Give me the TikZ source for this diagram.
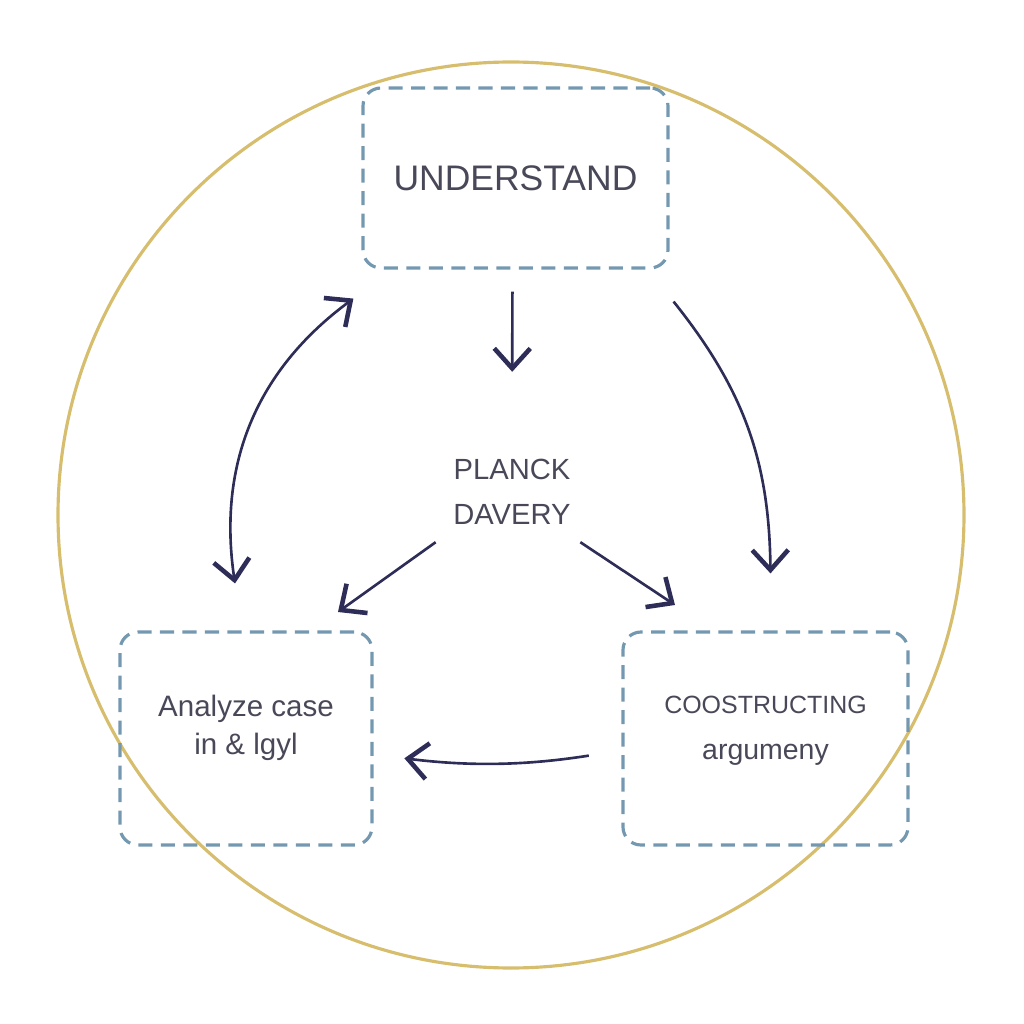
\documentclass[tikz,border=0pt]{standalone}
\usepackage{fontspec}
\setmainfont{Liberation Sans}
\usepackage{tikz}
\usetikzlibrary{arrows.meta, positioning, calc}
\definecolor{ringgold}{RGB}{214,190,110}
\definecolor{dashblue}{RGB}{115,152,175}
\definecolor{inknavy}{RGB}{45,45,88}
\definecolor{textgray}{RGB}{72,72,88}
\begin{document}
\begin{tikzpicture}[
        stagebox/.style={draw=dashblue, line width=0.9pt, dash pattern=on 4pt off 2.4pt,
                         rounded corners=0.18cm, align=center, text=textgray},
        flow/.style={inknavy, line width=0.75pt,
                     -{Straight Barb[length=2mm,width=3.6mm,line width=1.3pt]}},
        flowboth/.style={flow, {Straight Barb[length=2mm,width=3.6mm,line width=1.3pt]}-{Straight Barb[length=2mm,width=3.6mm,line width=1.3pt]}}
    ]

        \useasboundingbox (0,0) rectangle (10.24,10.24);

        % Vòng tròn nền
        \draw[ringgold, line width=0.9pt] (5.11,5.09) circle (4.53);

        % Các ô
        \node[stagebox, minimum width=3.05cm, minimum height=1.8cm, font=\fontsize{10.1}{12}\selectfont] (under) at (5.155,8.46)
            {UNDERSTAND};
        \node[stagebox, minimum width=2.52cm, minimum height=2.13cm, font=\fontsize{8.4}{11}\selectfont] (analyze) at (2.46,2.855)
            {Analyze case\\in \& lgyl\\[-3.2pt]};
        \node[stagebox, minimum width=2.85cm, minimum height=2.13cm, font=\fontsize{8.1}{12}\selectfont] (construct) at (7.655,2.855)
            {{\fontsize{7.1}{12}\selectfont COOSTRUCTING}\\[1pt]argumeny\\[-6pt]};

        % Chữ ở giữa
        \node[align=center, text=textgray, inner sep=0.17cm, font=\fontsize{8.3}{12.7}\selectfont] (plank) at (5.12,5.32)
            {PLANCK\\DAVERY};

        % Các mũi tên
        \draw[flow, shorten <=0.22cm, shorten >=0.7cm] ([xshift=-0.03cm]under.south) -- (plank.north);
        \draw[flowboth] ([xshift=-0.08cm,yshift=-0.29cm]under.south west) to[bend right=31] ([xshift=-0.11cm,yshift=0.47cm]analyze.north);
        \draw[flow] ([xshift=0.04cm,yshift=-0.32cm]under.south east) to[bend left=19] ([xshift=0.05cm,yshift=0.57cm]construct.north);
        \coordinate (tipL) at (3.38,4.12);
        \coordinate (tipR) at (6.75,4.19);
        \draw[flow] (plank.south west) -- (tipL);
        \draw[flow] ([xshift=-0.08cm]plank.south east) -- (tipR);
        \draw[flow, shorten <=0.33cm, shorten >=0.31cm] ([yshift=-0.12cm]construct.west) to[bend left=8] ([yshift=-0.16cm]analyze.east);

\end{tikzpicture}
\end{document}
